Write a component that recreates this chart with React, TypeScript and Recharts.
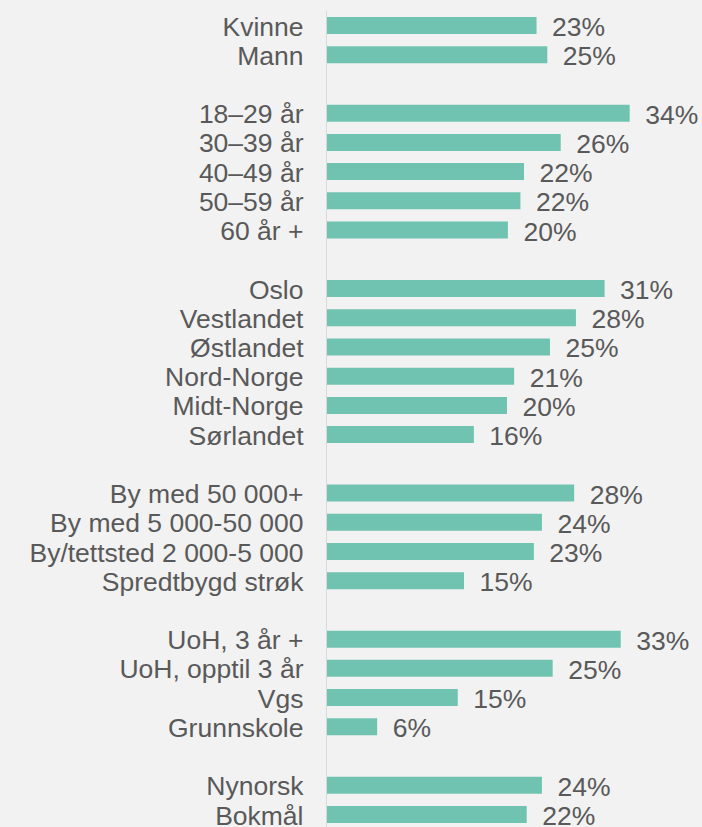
import { BarChart, Bar, XAxis, YAxis, LabelList } from 'recharts';

// Values (labels are the rounded values)
const genderLabels = ['Kvinne', 'Mann'];
const genderValues = [23.4, 24.6];

const ageLabels = ['18–29 år', '30–39 år', '40–49 år', '50–59 år', '60 år +'];
const ageValues = [33.8, 26.1, 22.0, 21.6, 20.2];

const regionLabels = ['Oslo', 'Vestlandet', 'Østlandet', 'Nord-Norge', 'Midt-Norge', 'Sørlandet'];
const regionValues = [31.0, 27.8, 24.9, 20.9, 20.1, 16.4];

const placeLabels = ['By med 50 000+', 'By med 5 000-50 000', 'By/tettsted 2 000-5 000', 'Spredtbygd strøk'];
const placeValues = [27.6, 24.0, 23.1, 15.3];

const eduLabels = ['UoH, 3 år +', 'UoH, opptil 3 år', 'Vgs', 'Grunnskole'];
const eduValues = [32.8, 25.2, 14.6, 5.6];

const langLabels = ['Nynorsk', 'Bokmål'];
const langValues = [24.0, 22.3];

const groups = [
  [genderLabels, genderValues],
  [ageLabels, ageValues],
  [regionLabels, regionValues],
  [placeLabels, placeValues],
  [eduLabels, eduValues],
  [langLabels, langValues],
] as const;

type Row = { name: string; label: string; value: number | null };

const rows: Row[] = [];
groups.forEach(([labels, values], g) => {
  if (g > 0) rows.push({ name: `gap-${g}`, label: '', value: null });
  labels.forEach((label, i) => rows.push({ name: label, label, value: values[i] }));
});

const FONT = '"Liberation Sans", Arial, sans-serif';
const TEXT = '#595959';

function CategoryTick(props: any) {
  const { x, y, payload } = props;
  const row = rows[payload.index];
  if (!row || !row.label) return null;
  return (
    <text x={x - 23.5} y={y + 10} textAnchor="end" fontFamily={FONT} fontSize={26.5} fill={TEXT}>
      {row.label}
    </text>
  );
}

function ValueLabel(props: any) {
  const vb = props.viewBox ?? props;
  const { x, y, width, height } = vb;
  const value = props.value;
  if (value == null || x == null) return null;
  return (
    <text x={x + width + 15.5} y={y + height / 2 + 10.5} fontFamily={FONT} fontSize={26.5} fill={TEXT}>
      {Math.round(value)}%
    </text>
  );
}

export default function App() {
  return (
    <div style={{ position: 'fixed', left: 0, top: 0, width: 702, height: 827, overflow: 'hidden', background: '#F2F2F2' }}>
      <BarChart
        width={702}
        height={830}
        data={rows}
        layout="vertical"
        margin={{ top: 11, right: 16.8, bottom: 0.8, left: 0 }}
      >
        <XAxis type="number" domain={[0, 40]} hide />
        <YAxis
          type="category"
          dataKey="name"
          width={327}
          interval={0}
          tickLine={false}
          tickSize={0}
          tickMargin={0}
          axisLine={{ stroke: '#D9D9D9', strokeWidth: 1, transform: 'translate(-0.5,0)' }}
          tick={(p: any) => <CategoryTick {...p} />}
        />
        <Bar dataKey="value" fill="#71C3B1" barSize={17} isAnimationActive={false}>
          <LabelList dataKey="value" content={(p: any) => <ValueLabel {...p} />} />
        </Bar>
      </BarChart>
    </div>
  );
}
